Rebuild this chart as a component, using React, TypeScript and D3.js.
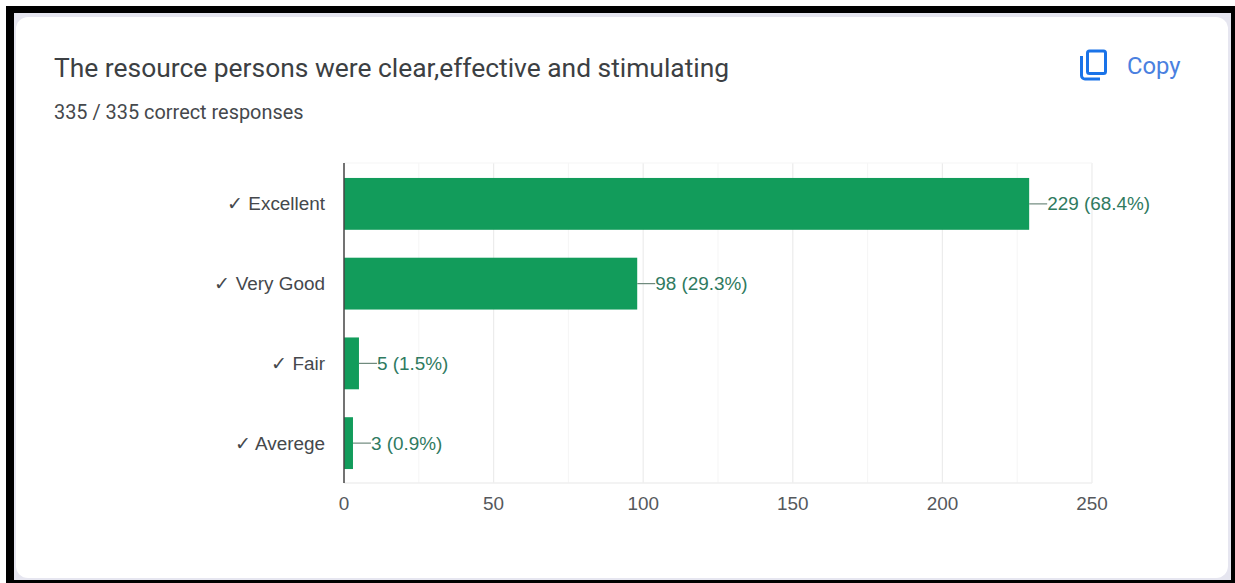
import React from "react";
import * as d3 from "d3";

const categories = ["✓ Excellent", "✓ Very Good", "✓ Fair", "✓ Averege"];
const counts = [229, 98, 5, 3];
const shares = ["68.4%", "29.3%", "1.5%", "0.9%"];
const majorTicks = [0, 50, 100, 150, 200, 250];
const minorTicks = [25, 75, 125, 175, 225];

const HEADING_FONT = "Roboto, Arial, sans-serif";
const CHART_FONT = "'Liberation Sans', Arial, sans-serif";
const left = 344;
const right = 1092;
const top = 163;
const bottom = 483;

export default function App() {
  const x = d3.scaleLinear().domain([0, 250]).range([left, right]);
  const y = d3.scaleBand<string>().domain(categories).range([top + 1, bottom]).paddingInner(0.35).paddingOuter(0.175);

  return (
    <svg
      width={1235}
      height={583}
      viewBox="0 0 1235 583"
      style={{ position: "fixed", left: 0, top: 0, display: "block", background: "#fff" }}
      fontFamily={CHART_FONT}
    >
      {/* Frame and card */}
      <rect x={6} y={6} width={1229} height={577} fill="#000" />
      <rect x={14} y={13} width={1217} height={567} fill="#e6e6f0" />
      <rect x={16} y={17} width={1212} height={561} rx={12} fill="#fff" />

      <text x={54} y={77} fontFamily={HEADING_FONT} fontSize={26.4} fill="#3c4043">
        The resource persons were clear,effective and stimulating
      </text>
      <text x={54} y={119} fontFamily={HEADING_FONT} fontSize={19.9} fill="#45484c">
        335 / 335 correct responses
      </text>

      {/* Copy button */}
      <g fill="none" stroke="#1a73e8" strokeWidth={3}>
        <rect x={1087.5} y={51} width={18} height={22.5} rx={2} />
        <path d="M1081.5 56 V75.5 a3.5 3.5 0 0 0 3.5 3.5 H1100" />
      </g>
      <text x={1127} y={74} fontFamily={HEADING_FONT} fontSize={23.8} fill="#4a80e0">
        Copy
      </text>

      {/* Grid */}
      {minorTicks.map((t) => (
        <line key={t} x1={x(t)} x2={x(t)} y1={top} y2={bottom} stroke="#f5f5f5" strokeWidth={1} />
      ))}
      {majorTicks.slice(1).map((t) => (
        <line key={t} x1={x(t)} x2={x(t)} y1={top} y2={bottom} stroke="#ececec" strokeWidth={1.2} />
      ))}
      <line x1={left} x2={right} y1={top} y2={top} stroke="#f5f5f5" />
      <line x1={left} x2={right} y1={bottom} y2={bottom} stroke="#efefef" strokeWidth={1.5} />

      {/* Bars, leaders and value labels */}
      {categories.map((c, i) => {
        const cy = (y(c) as number) + y.bandwidth() / 2;
        const end = x(counts[i]);
        return (
          <g key={c}>
            <rect x={left} y={y(c)} width={end - left} height={y.bandwidth()} fill="#129c5b" />
            <line x1={end} x2={end + 18} y1={cy} y2={cy} stroke="#6f8a7d" strokeWidth={1.2} />
            <text x={end + 18} y={cy + 6.5} fontSize={18.9} fill="#2f7a5f">
              {`${counts[i]} (${shares[i]})`}
            </text>
            <text x={325} y={cy + 6.5} fontSize={18.9} textAnchor="end" fill="#45484c">
              {c}
            </text>
          </g>
        );
      })}

      {/* Baseline and axis labels */}
      <line x1={left} x2={left} y1={top} y2={bottom} stroke="#444" strokeWidth={1.5} />
      {majorTicks.map((t) => (
        <text key={t} x={x(t)} y={510} fontSize={18.9} textAnchor="middle" fill="#55585c">
          {t}
        </text>
      ))}
    </svg>
  );
}
